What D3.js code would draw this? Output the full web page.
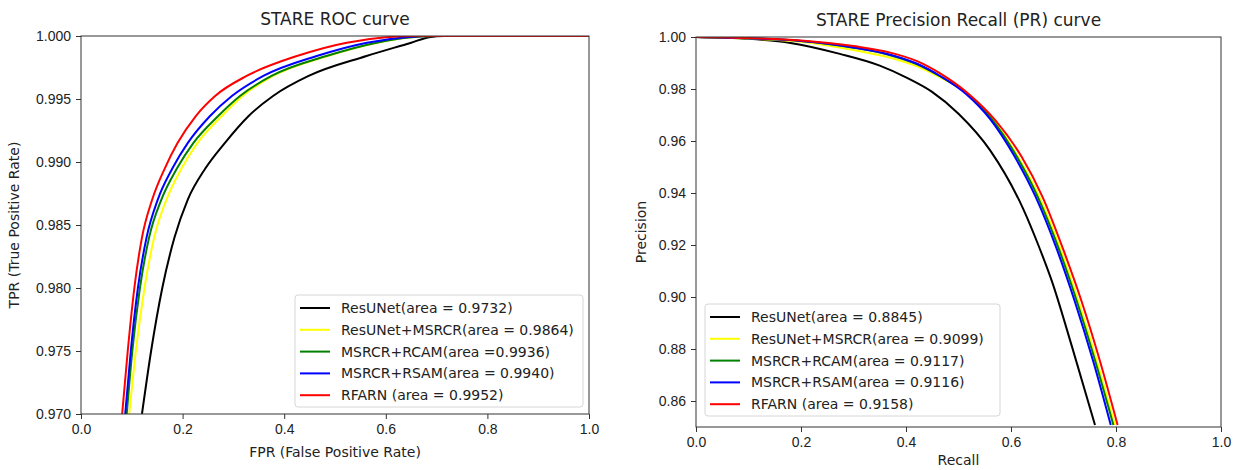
<!DOCTYPE html>
<head>
  <meta charset="utf-8">
  <script src="https://d3js.org/d3.v7.min.js"></script>
  <title>STARE ROC / PR curves</title>
  <style>
    body {
      margin: 0;
      background: #fff;
    }
    svg {
      display: block;
      font-family: 'DejaVu Sans', sans-serif;
    }
    .axis path {
      display: none;
    }
    .axis line {
      stroke: #333;
    }
    .axis text {
      font-size: 14px;
      fill: #222;
    }
    .frame {
      fill: none;
      stroke: #333;
      stroke-width: 1;
    }
    .line {
      fill: none;
      stroke-width: 2;
    }
    .title {
      font-size: 17px;
      fill: #222;
      text-anchor: middle;
    }
    .label {
      font-size: 14px;
      fill: #222;
      text-anchor: middle;
    }
    .legend-box {
      fill: #fff;
      fill-opacity: 0.85;
      stroke: #d6d6d6;
    }
    .legend text {
      font-size: 14px;
      fill: #222;
    }
  </style>
</head>

<body>
  <svg width="1242" height="470"></svg>
  <script>

// series, drawn in this order (red on top)
var seriesNames = ["ResUNet", "ResUNet+MSRCR", "MSRCR+RCAM", "MSRCR+RSAM", "RFARN"];
var seriesColors = ["#000000", "#ffff00", "#008000", "#0000ff", "#ff0000"];

var rocLegend = ["ResUNet(area = 0.9732)", "ResUNet+MSRCR(area = 0.9864)", "MSRCR+RCAM(area =0.9936)",
                 "MSRCR+RSAM(area = 0.9940)", "RFARN (area = 0.9952)"];
var prLegend = ["ResUNet(area = 0.8845)", "ResUNet+MSRCR(area = 0.9099)", "MSRCR+RCAM(area = 0.9117)",
                "MSRCR+RSAM(area = 0.9116)", "RFARN (area = 0.9158)"];

// ROC points [fpr, tpr]
var rocResUNet = [[0.120,0.970],[0.138,0.975],[0.160,0.980],[0.184,0.984],[0.210,0.987],[0.245,0.9895],
  [0.283,0.9915],[0.330,0.99365],[0.378,0.99524],[0.448,0.99683],[0.562,0.99841],[0.650,0.99947],[0.685,0.9999],[0.715,1.0],[1.0,1.0]];
var rocMSRCR = [[0.095,0.970],[0.108,0.975],[0.125,0.980],[0.144,0.984],[0.168,0.987],[0.198,0.9895],
  [0.229,0.9915],[0.277,0.99365],[0.318,0.99524],[0.378,0.99683],[0.485,0.99841],[0.583,0.99947],[0.650,0.9999],[0.695,1.0],[1.0,1.0]];
var rocRCAM = [[0.090,0.970],[0.101,0.975],[0.116,0.980],[0.134,0.984],[0.158,0.987],[0.189,0.9895],
  [0.221,0.9915],[0.270,0.99365],[0.313,0.99524],[0.375,0.99683],[0.483,0.99841],[0.582,0.99947],[0.650,0.9999],[0.695,1.0],[1.0,1.0]];
var rocRSAM = [[0.087,0.970],[0.098,0.975],[0.112,0.980],[0.129,0.984],[0.151,0.987],[0.180,0.9895],
  [0.210,0.9915],[0.254,0.99365],[0.297,0.99524],[0.359,0.99683],[0.464,0.99841],[0.563,0.99947],[0.640,0.9999],[0.690,1.0],[1.0,1.0]];
var rocRFARN = [[0.081,0.970],[0.092,0.975],[0.105,0.980],[0.120,0.984],[0.140,0.987],[0.165,0.9895],
  [0.190,0.9915],[0.226,0.99365],[0.264,0.99524],[0.326,0.99683],[0.425,0.99841],[0.523,0.99947],[0.600,0.9999],[0.660,1.0],[1.0,1.0]];

// PR points [recall, precision]
var prResUNet = [[0,1.0],[0.1,0.9993],[0.18,0.9977],[0.274,0.9935],[0.350,0.9890],[0.40,0.9845],[0.449,0.9790],
  [0.50,0.9705],[0.560,0.9565],[0.623,0.9340],[0.652,0.9200],[0.678,0.9060],[0.716,0.8810],[0.760,0.8508]];
var prMSRCR = [[0,1.0],[0.1,0.9994],[0.2,0.9982],[0.3,0.9950],[0.37,0.9920],[0.42,0.9888],[0.465,0.9845],
  [0.518,0.9780],[0.565,0.9685],[0.613,0.9540],[0.654,0.9385],[0.695,0.9180],[0.729,0.8980],[0.764,0.8750],[0.798,0.8508]];
var prRCAM = [[0,1.0],[0.1,0.9995],[0.2,0.9985],[0.3,0.9959],[0.37,0.9930],[0.42,0.9896],[0.465,0.9849],
  [0.517,0.9780],[0.563,0.9685],[0.611,0.9540],[0.651,0.9385],[0.692,0.9180],[0.726,0.8980],[0.761,0.8750],[0.795,0.8508]];
var prRSAM = [[0,1.0],[0.1,0.9995],[0.2,0.9985],[0.3,0.9960],[0.37,0.9932],[0.42,0.9898],[0.465,0.9850],
  [0.515,0.9780],[0.560,0.9685],[0.607,0.9540],[0.647,0.9385],[0.688,0.9180],[0.722,0.8980],[0.757,0.8750],[0.790,0.8508]];
var prRFARN = [[0,1.0],[0.1,0.9996],[0.2,0.9987],[0.3,0.9965],[0.37,0.9940],[0.42,0.9908],[0.465,0.9860],
  [0.52,0.9780],[0.57,0.9680],[0.62,0.9540],[0.66,0.9385],[0.70,0.9180],[0.735,0.8980],[0.77,0.8750],[0.803,0.8508]];

var xTicks = [0, 0.2, 0.4, 0.6, 0.8, 1.0];
var rocYTicks = [0.970, 0.975, 0.980, 0.985, 0.990, 0.995, 1.000];
var prYTicks = [0.86, 0.88, 0.90, 0.92, 0.94, 0.96, 0.98, 1.00];

var rocData = [rocResUNet, rocMSRCR, rocRCAM, rocRSAM, rocRFARN];
var prData = [prResUNet, prMSRCR, prRCAM, prRSAM, prRFARN];

var svg = d3.select("svg");

function drawPanel(opt) {
  var x = d3.scaleLinear().domain([0, 1]).range([opt.left, opt.right]);
  var y = d3.scaleLinear().domain(opt.yDomain).range([opt.bottom, opt.top]);
  var g = svg.append("g");

  g.append("clipPath").attr("id", opt.id + "-clip")
    .append("rect")
      .attr("x", opt.left).attr("y", opt.top)
      .attr("width", opt.right - opt.left).attr("height", opt.bottom - opt.top);

  var line = d3.line()
    .x(function(d) { return x(d[0]); })
    .y(function(d) { return y(d[1]); })
    .curve(d3.curveMonotoneX);

  g.append("g")
    .attr("clip-path", "url(#" + opt.id + "-clip)")
    .selectAll("path")
    .data(opt.data)
    .enter().append("path")
      .attr("class", "line")
      .attr("d", function(d) { return line(d); })
      .style("stroke", function(d, i) { return seriesColors[i]; });

  g.append("g")
    .attr("class", "axis")
    .attr("transform", "translate(0," + opt.bottom + ")")
    .call(d3.axisBottom(x).tickValues(xTicks).tickFormat(d3.format(".1f")).tickSize(5).tickPadding(5));

  g.append("g")
    .attr("class", "axis")
    .attr("transform", "translate(" + opt.left + ",0)")
    .call(d3.axisLeft(y).tickValues(opt.yTicks).tickFormat(d3.format(opt.yFormat)).tickSize(5).tickPadding(5));

  g.append("rect")
    .attr("class", "frame")
    .attr("x", opt.left).attr("y", opt.top)
    .attr("width", opt.right - opt.left).attr("height", opt.bottom - opt.top);

  g.append("text").attr("class", "title")
    .attr("x", (opt.left + opt.right) / 2).attr("y", opt.top - 11)
    .text(opt.title);

  g.append("text").attr("class", "label")
    .attr("x", (opt.left + opt.right) / 2).attr("y", opt.bottom + opt.xLabelGap)
    .text(opt.xLabel);

  g.append("text").attr("class", "label")
    .attr("transform", "translate(" + opt.yLabelX + "," + (opt.top + opt.bottom) / 2 + ") rotate(-90)")
    .text(opt.yLabel);

  // legend
  var lg = g.append("g").attr("class", "legend")
    .attr("transform", "translate(" + opt.legendX + "," + opt.legendY + ")");
  lg.append("rect").attr("class", "legend-box")
    .attr("x", 0).attr("y", 0).attr("rx", 3)
    .attr("width", opt.legendW).attr("height", 112);
  var row = lg.selectAll(".row")
    .data(opt.legend)
    .enter().append("g")
      .attr("class", "row")
      .attr("transform", function(d, i) { return "translate(0," + (13 + i * 21.8) + ")"; });
  row.append("line")
    .attr("x1", 5).attr("x2", 35)
    .style("stroke", function(d, i) { return seriesColors[i]; })
    .style("stroke-width", 2);
  row.append("text")
    .attr("x", 46).attr("dy", "0.36em")
    .text(function(d) { return d; });
}

drawPanel({
  id: "roc", left: 81, right: 589, top: 36, bottom: 414,
  yDomain: [0.970, 1.000], yTicks: rocYTicks, yFormat: ".3f",
  data: rocData, legend: rocLegend,
  title: "STARE ROC curve", xLabel: "FPR (False Positive Rate)", yLabel: "TPR (True Positive Rate)",
  xLabelGap: 43, yLabelX: 19, legendX: 295, legendY: 295, legendW: 288
});

drawPanel({
  id: "pr", left: 696, right: 1221, top: 37, bottom: 427,
  yDomain: [0.85, 1.00], yTicks: prYTicks, yFormat: ".2f",
  data: prData, legend: prLegend,
  title: "STARE Precision Recall (PR) curve", xLabel: "Recall", yLabel: "Precision",
  xLabelGap: 38, yLabelX: 646, legendX: 705, legendY: 304, legendW: 295
});

  </script>
</body>
